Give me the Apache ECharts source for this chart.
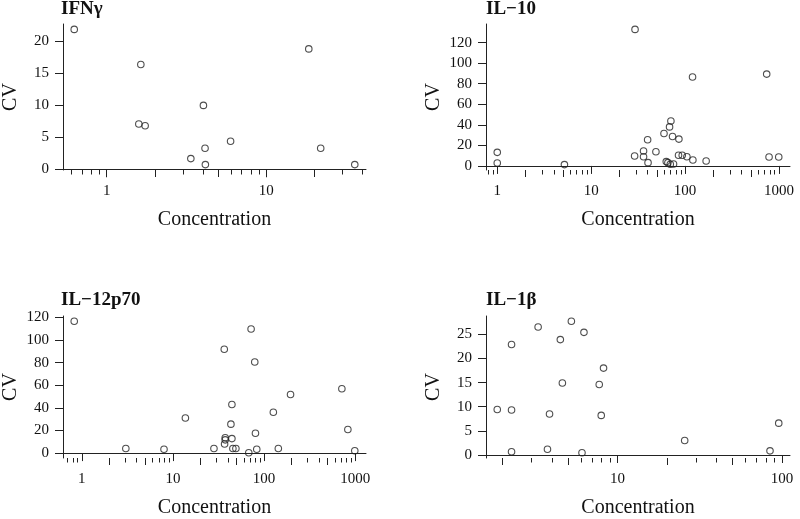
<!DOCTYPE html>
<html><head><meta charset="utf-8">
<script src="https://cdn.jsdelivr.net/npm/echarts@6/dist/echarts.min.js"></script>
<style>html,body{margin:0;padding:0;background:#fff}#c{width:800px;height:519px}</style>
</head><body><div id="c"></div>
<script>
// ---- data ----
const panelTitles = ['IFNγ', 'IL−10', 'IL−12p70', 'IL−1β'];

const ifnConc = [0.626, 1.636, 1.589, 1.741, 3.365, 4.035, 4.13, 4.15, 5.97, 18.44, 21.9, 35.8];
const ifnCV   = [21.9, 16.4, 7.08, 6.82, 1.67, 10.0, 3.28, 0.73, 4.38, 18.85, 3.28, 0.73];

const il10Conc = [1.0, 1.0, 5.19, 29.3, 29.0, 36.1, 36.1, 39.9, 40.3, 48.9, 59.6, 63.0, 65.6, 68.3, 70.6, 69.5, 73.5, 75.3, 85.9, 85.1, 93.2, 104.5, 121, 120, 167.5, 739, 783, 993];
const il10CV   = [13.2, 2.9, 1.3, 132.9, 9.7, 14.5, 9.0, 25.5, 3.2, 13.8, 31.6, 4.2, 3.2, 38.0, 43.8, 1.6, 28.7, 1.9, 26.1, 10.4, 10.4, 9.0, 5.8, 86.5, 4.8, 89.4, 8.7, 8.7];

const il12Conc = [0.825, 3.04, 7.98, 13.7, 28.2, 36.6, 37.5, 37.5, 36.9, 43.3, 44.4, 44.4, 45.5, 49.1, 68.0, 72.1, 79.1, 80.5, 83.2, 126.5, 143.5, 195.4, 715, 832, 991];
const il12CV   = [116.6, 4.0, 3.4, 31.0, 4.0, 91.9, 13.6, 11.7, 8.0, 25.6, 43.0, 12.8, 4.0, 4.0, 0.3, 109.8, 80.5, 17.6, 3.4, 36.1, 4.0, 51.8, 56.9, 20.8, 2.0];

const il1bConc = [1.857, 2.268, 2.268, 2.268, 3.29, 3.75, 3.86, 4.49, 4.62, 5.24, 6.08, 6.25, 7.74, 7.96, 8.22, 25.6, 84.5, 95.5];
const il1bCV   = [9.44, 22.9, 9.31, 0.66, 26.5, 1.2, 8.5, 23.9, 14.9, 27.7, 0.47, 25.4, 14.6, 8.2, 18.0, 3.0, 0.86, 6.6];

const yTicksIfn  = [0, 5, 10, 15, 20];
const yTicksIl10 = [0, 20, 40, 60, 80, 100, 120];
const yTicksIl12 = [0, 20, 40, 60, 80, 100, 120];
const yTicksIl1b = [0, 5, 10, 15, 20, 25];

const xLabelsIfn  = [1, 10];
const xLabelsIl10 = [1, 10, 100, 1000];
const xLabelsIl12 = [1, 10, 100, 1000];
const xLabelsIl1b = [10, 100];

const xTitle = 'Concentration';
const yTitle = 'CV';

// ---- layout / style ----
const FONT = 'Liberation Serif, serif';
const INK = '#222';
const TXT = '#111';
const grids = [
  {left: 61, top: 24, width: 305, height: 146},
  {left: 486, top: 24, width: 304, height: 146},
  {left: 61, top: 316, width: 305, height: 147},
  {left: 486, top: 316, width: 304, height: 147}
];
const titleTops = [0, 0, 291, 291];

const panels = [
  {x: ifnConc, y: ifnCV, yt: yTicksIfn, xl: xLabelsIfn},
  {x: il10Conc, y: il10CV, yt: yTicksIl10, xl: xLabelsIl10},
  {x: il12Conc, y: il12CV, yt: yTicksIl12, xl: xLabelsIl12},
  {x: il1bConc, y: il1bCV, yt: yTicksIl1b, xl: xLabelsIl1b}
];

function logRange(arr) {
  const l = arr.map(Math.log10);
  const a = Math.min(...l), b = Math.max(...l), d = (b - a) * 0.04;
  return [Math.pow(10, a - d), Math.pow(10, b + d)];
}
function linRange(arr) {
  const a = Math.min(...arr), b = Math.max(...arr), d = (b - a) * 0.04;
  return [a - d, b + d];
}
function logTicks(min, max) {
  const major = [], mid = [], minor = [];
  for (let k = Math.floor(Math.log10(min)); k <= Math.ceil(Math.log10(max)); k++) {
    for (let m = 1; m <= 9; m++) {
      const v = Number((m * Math.pow(10, k)).toPrecision(6));
      if (v < min || v > max) continue;
      if (m === 1) major.push(v); else if (m === 2 || m === 5) mid.push(v); else minor.push(v);
    }
  }
  return {major, mid, minor};
}

const xAxis = [], yAxis = [], series = [], title = [];
panels.forEach((p, i) => {
  const [xmin, xmax] = logRange(p.x);
  const [ymin, ymax] = linRange(p.y);
  const t = logTicks(xmin, xmax);
  const base = {type: 'log', gridIndex: i, position: 'bottom', min: xmin, max: xmax, splitLine: {show: false}};
  xAxis.push(Object.assign({}, base, {
    axisLine: {show: true, lineStyle: {color: INK, width: 1}},
    axisTick: {show: true, customValues: t.major, length: 8, lineStyle: {color: INK, width: 1}},
    axisLabel: {show: true, customValues: p.xl, margin: 14, fontSize: 15, fontFamily: FONT, color: TXT, formatter: v => String(v)},
    name: xTitle, nameLocation: 'middle', nameGap: 40,
    nameTextStyle: {fontFamily: FONT, fontSize: 20, color: TXT}
  }));
  xAxis.push(Object.assign({}, base, {
    axisLine: {show: false},
    axisTick: {show: true, customValues: t.mid, length: 7, lineStyle: {color: INK, width: 1}},
    axisLabel: {show: false}
  }));
  xAxis.push(Object.assign({}, base, {
    axisLine: {show: false},
    axisTick: {show: true, customValues: t.minor, length: 4.5, lineStyle: {color: INK, width: 1}},
    axisLabel: {show: false}
  }));
  yAxis.push({
    type: 'value', gridIndex: i, min: ymin, max: ymax, splitLine: {show: false},
    axisLine: {show: true, lineStyle: {color: INK, width: 1}},
    axisTick: {show: true, customValues: p.yt, length: 8, lineStyle: {color: INK, width: 1}},
    axisLabel: {show: true, customValues: p.yt, margin: 14, fontSize: 15, fontFamily: FONT, color: TXT},
    name: yTitle, nameLocation: 'middle', nameGap: 42,
    nameTextStyle: {fontFamily: FONT, fontSize: 20, color: TXT}
  });
  series.push({
    type: 'scatter', xAxisIndex: i * 3, yAxisIndex: i,
    data: p.x.map((v, j) => [v, p.y[j]]),
    symbol: 'circle', symbolSize: 6.5,
    itemStyle: {color: 'rgba(0,0,0,0)', borderColor: INK, borderWidth: 1.1},
    silent: true, animation: false
  });
  title.push({
    text: panelTitles[i], left: grids[i].left, top: titleTops[i], padding: 0,
    textStyle: {fontFamily: FONT, fontSize: 19, fontWeight: 'bold', color: TXT}
  });
});

const chart = echarts.init(document.getElementById('c'), null, {renderer: 'canvas'});
chart.setOption({
  backgroundColor: '#fff',
  animation: false,
  title, grid: grids, xAxis, yAxis, series
});
</script></body></html>
